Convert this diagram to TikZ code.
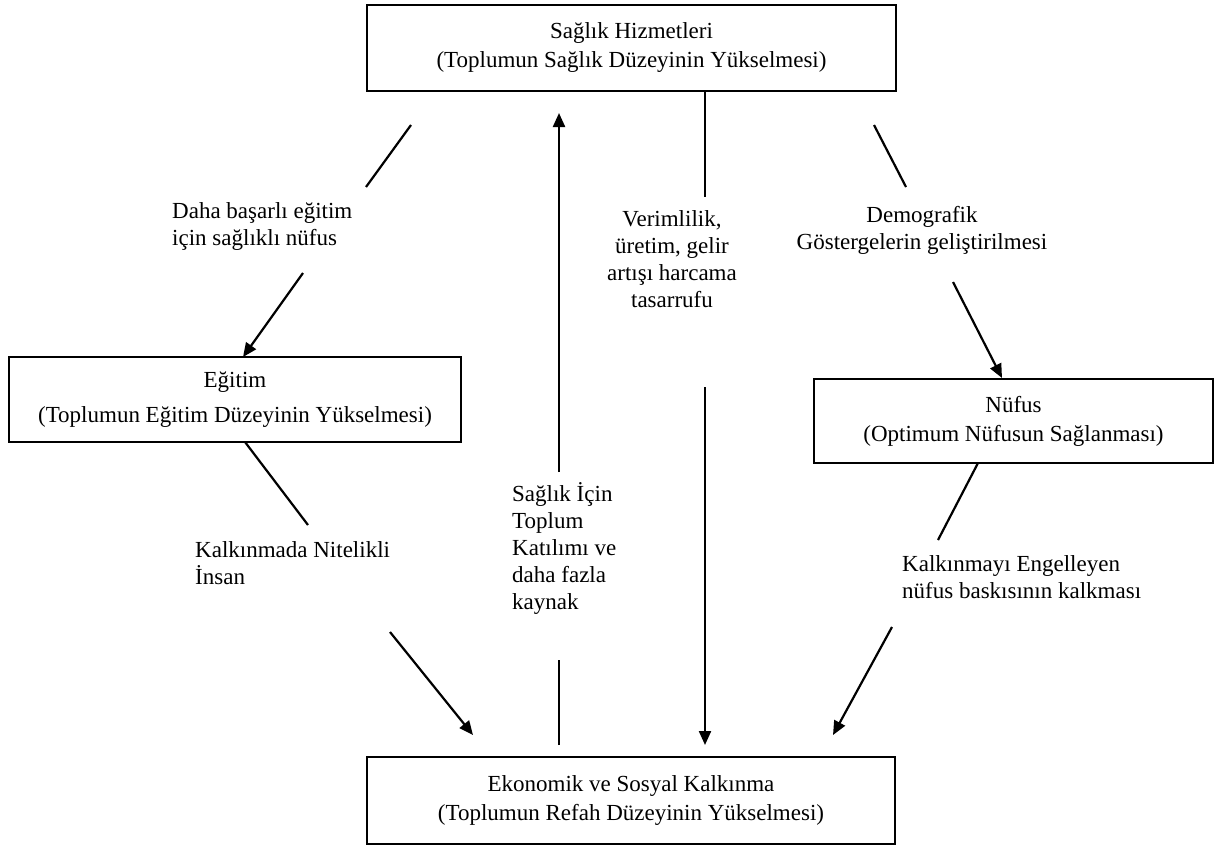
\documentclass[tikz,border=0pt]{standalone}
\usepackage{fontspec}
\setmainfont{Liberation Serif}
\usetikzlibrary{arrows.meta}
\tikzset{
  kutu/.style={draw, line width=2.2pt, align=center, inner sep=0pt},
  etiket/.style={inner sep=0pt, font=\fontsize{23}{27}\selectfont},
  hat/.style={line width=2.2pt},
}
\begin{document}
\begin{tikzpicture}[x=1pt, y=-1pt, >={Triangle[length=14pt,width=12pt]}, font=\fontsize{23}{29}\selectfont]
\useasboundingbox (0,0) rectangle (1220,846);
% Boxes
\node[kutu, minimum width=529pt, minimum height=86pt] (saglik) at (631.5,48) {Sağlık Hizmetleri\\(Toplumun Sağlık Düzeyinin Yükselmesi)};
\node[kutu, minimum width=452pt, minimum height=85pt, font=\fontsize{23}{35}\selectfont] (egitim) at (235,399.5) {Eğitim\\(Toplumun Eğitim Düzeyinin Yükselmesi)};
\node[kutu, minimum width=399pt, minimum height=84pt] (nufus) at (1013.5,421) {Nüfus\\(Optimum Nüfusun Sağlanması)};
\node[kutu, minimum width=528pt, minimum height=87pt] (kalkinma) at (631,800.5) {Ekonomik ve Sosyal Kalkınma\\(Toplumun Refah Düzeyinin Yükselmesi)};
% Labels
\node[etiket, align=left, anchor=west] (egitimlbl) at (172,226) {Daha başarlı eğitim\\için sağlıklı nüfus};
\node[etiket, align=center] (verimlbl) at (672,259) {Verimlilik,\\üretim, gelir\\artışı harcama\\tasarrufu};
\node[etiket, align=center] (demolbl) at (922,230) {Demografik\\Göstergelerin geliştirilmesi};
\node[etiket, align=left, anchor=west] (insanlbl) at (195,563) {Kalkınmada Nitelikli\\İnsan};
\node[etiket, align=left, anchor=west] (katilimlbl) at (512,548) {Sağlık İçin\\Toplum\\Katılımı ve\\daha fazla\\kaynak};
\node[etiket, align=left, anchor=west] (baskilbl) at (902,577) {Kalkınmayı Engelleyen\\ nüfus baskısının kalkması};
% Saglik -> Egitim
\coordinate (se1) at (411,125);
\coordinate (se2) at (366,187);
\coordinate (se3) at (303,273);
\coordinate (se4) at (243,357);
\draw[hat] (se1) -- (se2);
\draw[hat, ->] (se3) -- (se4);
% Saglik -> Nufus
\coordinate (sn1) at (874,125);
\coordinate (sn2) at (906,187);
\coordinate (sn3) at (953,282);
\coordinate (sn4) at (1002,378);
\draw[hat] (sn1) -- (sn2);
\draw[hat, ->] (sn3) -- (sn4);
% Saglik -> Kalkinma
\coordinate (sk1) at (705,197);
\coordinate (sk2) at (705,387);
\coordinate (sk3) at (705,745);
\draw[hat] (saglik.south -| sk1) -- (sk1);
\draw[hat, ->] (sk2) -- (sk3);
% Kalkinma -> Saglik
\coordinate (ks1) at (559,745);
\coordinate (ks2) at (559,660);
\coordinate (ks3) at (559,472);
\coordinate (ks4) at (559,113);
\draw[hat] (ks1) -- (ks2);
\draw[hat, ->] (ks3) -- (ks4);
% Egitim -> Kalkinma
\coordinate (ek1) at (245,442);
\coordinate (ek2) at (308,525);
\coordinate (ek3) at (390,632);
\coordinate (ek4) at (473,735);
\draw[hat] (ek1) -- (ek2);
\draw[hat, ->] (ek3) -- (ek4);
% Nufus -> Kalkinma
\coordinate (nk1) at (978,463);
\coordinate (nk2) at (938,540);
\coordinate (nk3) at (892,627);
\coordinate (nk4) at (833,735);
\draw[hat] (nk1) -- (nk2);
\draw[hat, ->] (nk3) -- (nk4);
\end{tikzpicture}
\end{document}
